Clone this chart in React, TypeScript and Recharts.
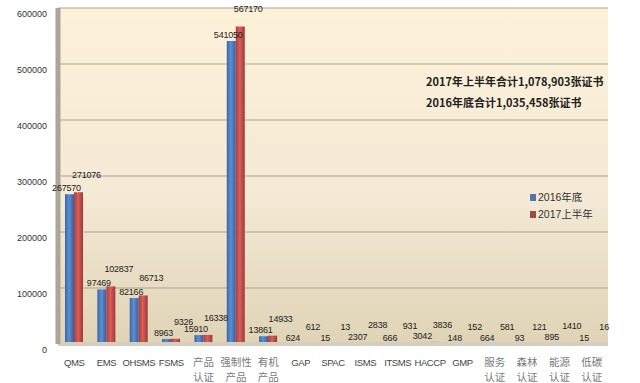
import React from 'react';
import { BarChart, Bar, XAxis, YAxis, CartesianGrid, LabelList } from 'recharts';

const categories = ['QMS', 'EMS', 'OHSMS', 'FSMS', '产品\n认证', '强制性\n产品', '有机\n产品', 'GAP', 'SPAC', 'ISMS', 'ITSMS', 'HACCP', 'GMP', '服务\n认证', '森林\n认证', '能源\n认证', '低碳\n认证'];
const end2016 = [267570, 97469, 82166, 8963, 15910, 541050, 13861, 624, 15, 2307, 666, 3042, 148, 664, 93, 895, 15];
const half2017 = [271076, 102837, 86713, 9326, 16338, 567170, 14933, 612, 13, 2838, 931, 3836, 152, 581, 121, 1410, 16];
const yTicks = [0, 100000, 200000, 300000, 400000, 500000, 600000];
const seriesNames = ['2016年底', '2017上半年'];
const notes = ['2017年上半年合计1,078,903张证书', '2016年底合计1,035,458张证书'];

const data = categories.map((c, i) => ({ name: c, a: end2016[i], b: half2017[i] }));

const FONT = '"Liberation Sans", "Noto Sans CJK SC", sans-serif';

const XTick = (props: any) => {
  const { x, y, payload } = props;
  const lines = String(payload.value).split('\n');
  const cjk = lines.length > 1;
  return (
    <g>
      {lines.map((l, i) => (
        <text key={i} x={x} y={y + 14 + i * 15} textAnchor="middle" fontSize={cjk ? 10.5 : 9.5} letterSpacing={cjk ? 0 : -0.4} fill={cjk ? '#7a7a7a' : '#444'} fontFamily={cjk ? '"Noto Sans CJK SC", sans-serif' : FONT}>
          {l}
        </text>
      ))}
    </g>
  );
};

const YTick = (props: any) => {
  const { x, y, payload } = props;
  return (
    <text x={x - 3} y={y + 9} textAnchor="end" fontSize={9} fill="#333" fontFamily={FONT}>
      {payload.value}
    </text>
  );
};

const BlueLabel = (props: any) => {
  const { x, y, width, value } = props;
  return (
    <text x={x + width / 2 - 3} y={y - 3} textAnchor="middle" fontSize={9} letterSpacing={-0.2} fill="#222" fontFamily={FONT}>
      {value}
    </text>
  );
};

const RedLabel = (props: any) => {
  const { x, y, width, value } = props;
  return (
    <text x={x + width / 2 + 8} y={y - 14} textAnchor="middle" fontSize={9} letterSpacing={-0.2} fill="#222" fontFamily={FONT}>
      {value}
    </text>
  );
};

export default function App() {
  return (
    <div style={{ position: 'fixed', left: 0, top: 0, width: 640, height: 383, background: '#fff' }}>
      <svg width={0} height={0} style={{ position: 'absolute' }}>
        <defs>
          <linearGradient id="bgGrad" x1="0" y1="0" x2="0" y2="1">
            <stop offset="0%" stopColor="#fdf1d8" />
            <stop offset="55%" stopColor="#f4ead6" />
            <stop offset="100%" stopColor="#e0d4b6" />
          </linearGradient>
          <linearGradient id="blueGrad" x1="0" y1="0" x2="1" y2="0">
            <stop offset="0%" stopColor="#3a66a6" />
            <stop offset="45%" stopColor="#5d8fd2" />
            <stop offset="100%" stopColor="#34609c" />
          </linearGradient>
          <linearGradient id="redGrad" x1="0" y1="0" x2="1" y2="0">
            <stop offset="0%" stopColor="#b03c3a" />
            <stop offset="45%" stopColor="#d4615d" />
            <stop offset="100%" stopColor="#a33634" />
          </linearGradient>
        </defs>
      </svg>
      <BarChart width={640} height={383} data={data} margin={{ top: 8, right: 32, bottom: 0, left: 8 }} barGap={0} barSize={9}>
        <CartesianGrid vertical={false} stroke="#aaa290" fill="url(#bgGrad)" fillOpacity={1} />
        <XAxis dataKey="name" interval={0} tick={<XTick />} tickLine={false} axisLine={{ stroke: '#d4cec0', strokeWidth: 4 }} height={39} />
        <YAxis domain={[0, 600000]} ticks={yTicks} width={50} tick={<YTick />} tickLine={false} axisLine={{ stroke: '#aaa69a', strokeWidth: 5 }} interval={0} />
        <Bar dataKey="a" name={seriesNames[0]} fill="url(#blueGrad)" isAnimationActive={false}>
          <LabelList dataKey="a" content={<BlueLabel />} />
        </Bar>
        <Bar dataKey="b" name={seriesNames[1]} fill="url(#redGrad)" isAnimationActive={false}>
          <LabelList dataKey="b" content={<RedLabel />} />
        </Bar>
      </BarChart>
      <div style={{ position: 'absolute', left: 530, top: 189, fontFamily: '"Liberation Sans", "Noto Sans CJK SC", sans-serif', fontSize: 10.5, color: '#333', lineHeight: '17px', whiteSpace: 'nowrap' }}>
        <div><span style={{ display: 'inline-block', width: 6, height: 7, background: '#4f76b0', marginRight: 2 }} />{seriesNames[0]}</div>
        <div><span style={{ display: 'inline-block', width: 6, height: 7, background: '#a04a48', marginRight: 2 }} />{seriesNames[1]}</div>
      </div>
      {notes.map((n, i) => (
        <div key={i} style={{ position: 'absolute', left: 426, top: 73 + i * 21, fontFamily: '"Noto Sans CJK SC", sans-serif', fontSize: 11, color: '#222', whiteSpace: 'nowrap', fontWeight: 600 }}>
          {n}
        </div>
      ))}
    </div>
  );
}
